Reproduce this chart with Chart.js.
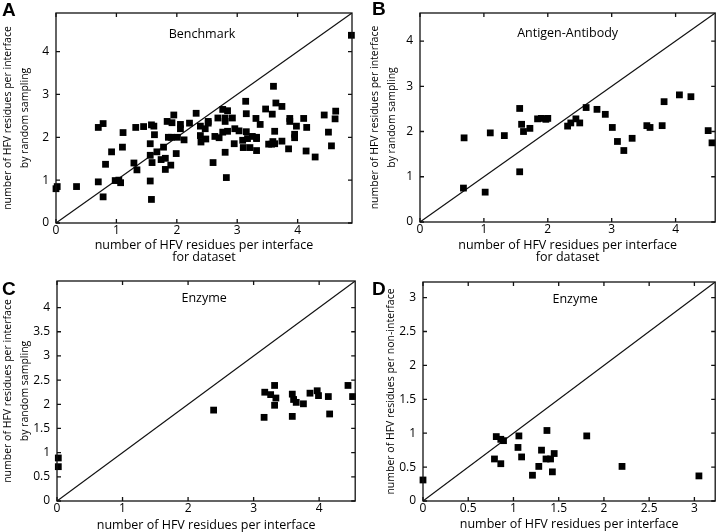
<!DOCTYPE html>
<html>
<head>
<meta charset="utf-8">
<script src="https://cdn.jsdelivr.net/npm/chart.js@4.4.0/dist/chart.umd.min.js"></script>
<style>
  body { margin: 0; background: #fff; }
  .panel { position: absolute; width: 360px; height: 266px; }
</style>
</head>
<body>
<div class="panel" style="left:0;top:0"><canvas id="cA" width="360" height="266"></canvas></div>
<div class="panel" style="left:360px;top:0"><canvas id="cB" width="360" height="266"></canvas></div>
<div class="panel" style="left:0;top:266px"><canvas id="cC" width="360" height="266"></canvas></div>
<div class="panel" style="left:360px;top:266px"><canvas id="cD" width="360" height="266"></canvas></div>
<script>
// A - Benchmark
const benchX = [0.00,0.02,0.34,0.70,0.70,0.78,0.78,0.82,0.92,0.98,1.04,1.07,1.10,1.11,1.29,1.32,1.34,1.45,1.56,1.58,1.56,1.56,1.59,1.58,1.62,1.63,1.67,1.74,1.78,1.81,1.81,1.84,1.86,1.90,1.91,1.92,1.95,1.99,2.01,2.06,2.06,2.12,2.21,2.32,2.39,2.39,2.40,2.47,2.48,2.52,2.52,2.60,2.63,2.68,2.70,2.76,2.76,2.80,2.80,2.80,2.82,2.84,2.84,2.92,2.95,2.96,3.03,3.09,3.10,3.14,3.15,3.15,3.17,3.21,3.25,3.31,3.32,3.32,3.32,3.38,3.47,3.52,3.57,3.58,3.59,3.60,3.62,3.62,3.64,3.74,3.74,3.85,3.87,3.87,3.95,3.95,3.98,4.10,4.14,4.15,4.29,4.44,4.51,4.56,4.62,4.63,4.89];
const benchY = [0.80,0.85,0.85,0.96,2.23,2.32,0.61,1.37,1.66,0.99,1.00,0.94,1.77,2.11,1.40,2.23,1.24,2.25,0.98,0.55,1.58,1.85,1.41,2.29,2.26,2.06,1.66,1.48,1.77,1.51,1.25,2.37,2.00,1.35,2.00,2.34,2.52,1.62,2.00,2.30,2.20,1.94,2.33,2.56,2.04,2.26,1.89,2.20,1.96,2.37,2.33,1.41,2.02,2.45,1.99,2.65,2.12,2.45,2.37,1.65,1.06,2.62,2.14,2.45,1.85,2.20,2.15,1.93,1.76,2.84,2.55,2.13,1.97,1.76,2.02,2.44,1.97,2.00,1.69,2.30,2.66,1.84,1.84,2.54,1.90,3.19,2.14,1.85,2.80,2.72,1.91,1.73,2.44,2.37,2.07,1.99,2.26,2.44,1.68,2.23,1.54,2.52,2.12,1.80,2.43,2.61,4.38];

// B - Antigen-Antibody
const abX = [0.68,0.69,1.02,1.10,1.32,1.56,1.56,1.59,1.62,1.72,1.84,1.90,1.97,2.00,2.31,2.36,2.44,2.50,2.60,2.77,2.90,3.01,3.09,3.19,3.32,3.55,3.60,3.79,3.82,4.06,4.24,4.51,4.57];
const abY = [0.75,1.86,0.66,1.97,1.91,2.51,1.11,2.16,2.00,2.07,2.28,2.29,2.27,2.29,2.12,2.19,2.28,2.19,2.53,2.49,2.38,2.09,1.78,1.58,1.85,2.13,2.09,2.13,2.66,2.81,2.77,2.02,1.75];

// C - Enzyme, random sampling
const enzX = [0.02,0.02,2.39,3.16,3.17,3.26,3.32,3.34,3.32,3.59,3.61,3.65,3.59,3.76,3.86,3.97,3.99,4.14,4.16,4.44,4.51];
const enzY = [0.89,0.71,1.88,1.73,2.25,2.20,2.39,2.13,1.98,2.21,2.10,2.04,1.75,2.01,2.23,2.28,2.18,2.16,1.80,2.39,2.16];

// D - Enzyme, interface vs non-interface
const ifX = [0.00,0.79,0.81,0.86,0.86,0.89,1.05,1.06,1.09,1.21,1.28,1.31,1.36,1.37,1.41,1.43,1.45,1.81,2.20,3.05];
const nonIfY = [0.31,0.62,0.95,0.91,0.55,0.89,0.79,0.96,0.65,0.38,0.51,0.75,0.62,1.04,0.62,0.43,0.70,0.96,0.51,0.37];

// axis ranges and ticks
const rangeA = [0, 4.9];
const rangeB = [0, 4.62];
const rangeC = [0, 4.55];
const rangeD = [0, 3.23];
const ticksInt = [0, 1, 2, 3, 4];
const ticksHalfC = [0, 0.5, 1, 1.5, 2, 2.5, 3, 3.5, 4];
const ticksHalfD = [0, 0.5, 1, 1.5, 2, 2.5, 3];

const FONT = 'Open Sans';

// box, inward tick marks, panel letter and inner label
const framePlugin = {
    id: 'frame',
    afterDatasetsDraw(chart, args, opts) {
        const { ctx, chartArea: a } = chart;
        const xs = chart.scales.x, ys = chart.scales.y;
        ctx.save();
        ctx.strokeStyle = '#111';
        ctx.lineWidth = 1.3;
        ctx.strokeRect(a.left, a.top, a.right - a.left, a.bottom - a.top);
        const tl = 4;
        ctx.beginPath();
        xs.ticks.forEach(t => {
            const px = xs.getPixelForValue(t.value);
            ctx.moveTo(px, a.bottom); ctx.lineTo(px, a.bottom - tl);
            ctx.moveTo(px, a.top); ctx.lineTo(px, a.top + tl);
        });
        ys.ticks.forEach(t => {
            const py = ys.getPixelForValue(t.value);
            ctx.moveTo(a.left, py); ctx.lineTo(a.left + tl, py);
            ctx.moveTo(a.right, py); ctx.lineTo(a.right - tl, py);
        });
        ctx.stroke();
        ctx.fillStyle = '#000';
        ctx.font = 'bold 19px "Liberation Sans"';
        ctx.textAlign = 'left';
        ctx.textBaseline = 'top';
        ctx.fillText(opts.letter, opts.letterX, opts.letterY);
        ctx.font = '12.5px "' + FONT + '"';
        ctx.textAlign = 'center';
        ctx.textBaseline = 'middle';
        ctx.fillText(opts.label, (a.left + a.right) / 2 + opts.labelDx, a.top + opts.labelDy);
        ctx.restore();
    }
};

function makePanel(id, p) {
    const pts = p.xs.map((v, i) => ({ x: v, y: p.ys[i] }));
    const diag = [{ x: p.range[0], y: p.range[0] }, { x: p.range[1], y: p.range[1] }];
    const tickFont = { family: FONT, size: 12, lineHeight: 1.0 };
    return new Chart(document.getElementById(id), {
        type: 'scatter',
        data: {
            datasets: [
                {
                    data: pts,
                    pointStyle: 'rect',
                    pointRadius: 4.8,
                    backgroundColor: '#000',
                    borderWidth: 0,
                    clip: false
                },
                {
                    type: 'line',
                    data: diag,
                    borderColor: '#111',
                    borderWidth: 1.2,
                    pointRadius: 0,
                    fill: false
                }
            ]
        },
        options: {
            responsive: false,
            animation: false,
            events: [],
            layout: { padding: p.pad },
            plugins: {
                legend: { display: false },
                tooltip: { enabled: false },
                frame: p.frame
            },
            scales: {
                x: {
                    type: 'linear',
                    min: p.range[0],
                    max: p.range[1],
                    grid: { display: false, drawTicks: false },
                    border: { display: false },
                    afterBuildTicks: ax => { ax.ticks = p.xTicks.map(v => ({ value: v })); },
                    afterFit: ax => { ax.height = p.xH; },
                    ticks: { color: '#000', font: tickFont, padding: 2, maxRotation: 0, callback: v => String(v) },
                    title: {
                        display: true, text: p.xTitle, color: '#000',
                        font: { family: FONT, size: 12.5, lineHeight: 1.0 },
                        padding: { top: 0, bottom: p.xTitlePad }
                    }
                },
                y: {
                    type: 'linear',
                    min: p.range[0],
                    max: p.range[1],
                    grid: { display: false, drawTicks: false },
                    border: { display: false },
                    afterBuildTicks: ax => { ax.ticks = p.yTicks.map(v => ({ value: v })); },
                    afterFit: ax => { ax.width = p.yW; },
                    ticks: { color: '#000', font: tickFont, padding: 7, callback: v => String(v) },
                    title: {
                        display: true, text: p.yTitle, color: '#000',
                        font: { family: FONT, size: 10.5, lineHeight: 1.6 },
                        padding: { top: p.yTitlePad, bottom: 0 }
                    }
                }
            }
        },
        plugins: [framePlugin]
    });
}

const yTitleRand = ['number of HFV residues per interface', 'by random sampling'];
const xTitleData = ['number of HFV residues per interface', 'for dataset'];

makePanel('cA', {
    xs: benchX, ys: benchY, range: rangeA, xTicks: ticksInt, yTicks: ticksInt,
    pad: { top: 1, right: 8, left: 0, bottom: 0 }, yW: 56, xH: 43,
    xTitle: xTitleData, yTitle: yTitleRand, xTitlePad: 2, yTitlePad: 0,
    frame: { letter: 'A', letterX: 2, letterY: 1, label: 'Benchmark', labelDx: -2, labelDy: 21 }
});
makePanel('cB', {
    xs: abX, ys: abY, range: rangeB, xTicks: ticksInt, yTicks: ticksInt,
    pad: { top: 1, right: 2, left: 0, bottom: 0 }, yW: 60, xH: 44,
    xTitle: xTitleData, yTitle: yTitleRand, xTitlePad: 2, yTitlePad: 7,
    frame: { letter: 'B', letterX: 12, letterY: 0, label: 'Antigen-Antibody', labelDx: 0, labelDy: 20 }
});
makePanel('cC', {
    xs: enzX, ys: enzY, range: rangeC, xTicks: ticksInt, yTicks: ticksHalfC,
    pad: { top: 15, right: 2, left: 0, bottom: 0 }, yW: 57, xH: 31,
    xTitle: 'number of HFV residues per interface', yTitle: yTitleRand, xTitlePad: 0, yTitlePad: 0,
    frame: { letter: 'C', letterX: 2, letterY: 14, label: 'Enzyme', labelDx: -2, labelDy: 17 }
});
makePanel('cD', {
    xs: ifX, ys: nonIfY, range: rangeD, xTicks: ticksHalfD, yTicks: ticksHalfD,
    pad: { top: 16, right: 2, left: 0, bottom: 0 }, yW: 63, xH: 31,
    xTitle: 'number of HFV residues per interface', yTitle: 'number of HFV residues per non-interface', xTitlePad: 1, yTitlePad: 23,
    frame: { letter: 'D', letterX: 12, letterY: 14, label: 'Enzyme', labelDx: 6, labelDy: 17 }
});
</script>
</body>
</html>
